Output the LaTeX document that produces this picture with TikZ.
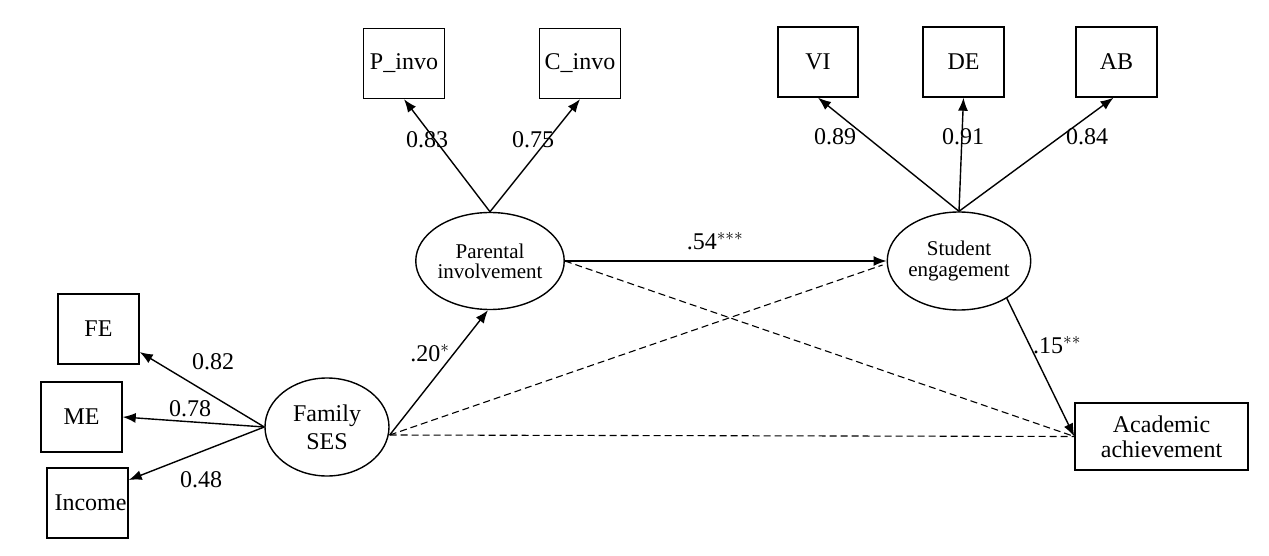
\documentclass[tikz,border=0pt]{standalone}
\usepackage{fontspec}
\setmainfont{Liberation Serif}
\usetikzlibrary{arrows.meta,shapes.geometric}
\begin{document}
\begin{tikzpicture}[x=1pt,y=-1pt,
  obs/.style={draw,line width=1.4pt,minimum width=81pt,minimum height=70pt,inner sep=0pt,font=\fontsize{24}{26}\selectfont},
  lat/.style={draw,ellipse,line width=1.4pt,inner sep=0pt,align=center},
  arr/.style={line width=1.4pt,-{Latex[length=13pt,width=10pt]}},
  dsh/.style={line width=1.1pt,dash pattern=on 7pt off 4pt},
  lbl/.style={font=\fontsize{24}{26}\selectfont,inner sep=0pt}]
\useasboundingbox (0,0) rectangle (1269,556);
% latent variables
\node[lat,minimum width=124pt,minimum height=97pt,font=\fontsize{21}{20}\selectfont] (PI) at (490,261) {Parental\\involvement};
\node[lat,minimum width=126pt,minimum height=98pt,font=\fontsize{21}{21}\selectfont] (SE) at (959,261) {Student\\engagement};
\node[lat,minimum width=124pt,minimum height=98pt,font=\fontsize{24}{28}\selectfont] (FS) at (327,427) {Family\\SES};
% observed variables
\node[obs] (P) at (404,63.5) {P\_invo};
\node[obs] (C) at (580,63.5) {C\_invo};
\node[obs,minimum width=80pt] (VI) at (818,62) {VI};
\node[obs] (DE) at (963.5,62) {DE};
\node[obs] (AB) at (1116.5,62) {AB};
\node[obs] (FE) at (98.5,329) {FE};
\node[obs] (ME) at (81.5,417) {ME};
\node[obs,font=\fontsize{24}{26}\selectfont\hspace*{6pt}] (IN) at (87.5,503) {Income};
\node[obs,minimum width=173pt,minimum height=67pt,align=center,font=\fontsize{24}{25}\selectfont] (AA) at (1161.5,436.5) {Academic\\achievement};
% coordinates
\coordinate (fsr) at ([yshift=-8pt]FS.east);
\coordinate (aal) at ([yshift=0pt]AA.west);
% dashed paths
\draw[dsh] (fsr) -- ([xshift=-4pt,yshift=-4pt]SE.west);
\draw[dsh] (fsr) -- (aal);
\draw[dsh] (PI.east) -- (aal);
% loadings
\draw[arr] (PI.north) -- (P.south);
\draw[arr] (PI.north) -- (C.south);
\draw[arr] (SE.north) -- (VI.south);
\draw[arr] (SE.north) -- (DE.south);
\draw[arr] (SE.north) -- ([xshift=-3pt]AB.south);
\draw[arr] (FS.west) -- ([yshift=-23pt]FE.east);
\draw[arr] (FS.west) -- (ME.east);
\draw[arr] (FS.west) -- ([yshift=23pt]IN.east);
% structural paths
\draw[arr] (fsr) -- ([xshift=-2pt]PI.south);
\draw[arr] (PI.east) -- (SE.west);
\draw[arr] (SE.-38) -- (aal);
% labels
\node[lbl] (l83) at (427,140) {0.83};
\node[lbl] (l75) at (533,140) {0.75};
\node[lbl] (l89) at (835,137) {0.89};
\node[lbl] (l91) at (963,137) {0.91};
\node[lbl] (l84) at (1087,137) {0.84};
\node[lbl] (l82) at (213,362) {0.82};
\node[lbl] (l78) at (190,409) {0.78};
\node[lbl] (l48) at (201,480) {0.48};
\node[lbl] (l20) at (430,353) {.20$^{*}$};
\node[lbl] (l54) at (715,241) {.54$^{***}$};
\node[lbl] (l15) at (1057,345) {.15$^{**}$};
\end{tikzpicture}
\end{document}
